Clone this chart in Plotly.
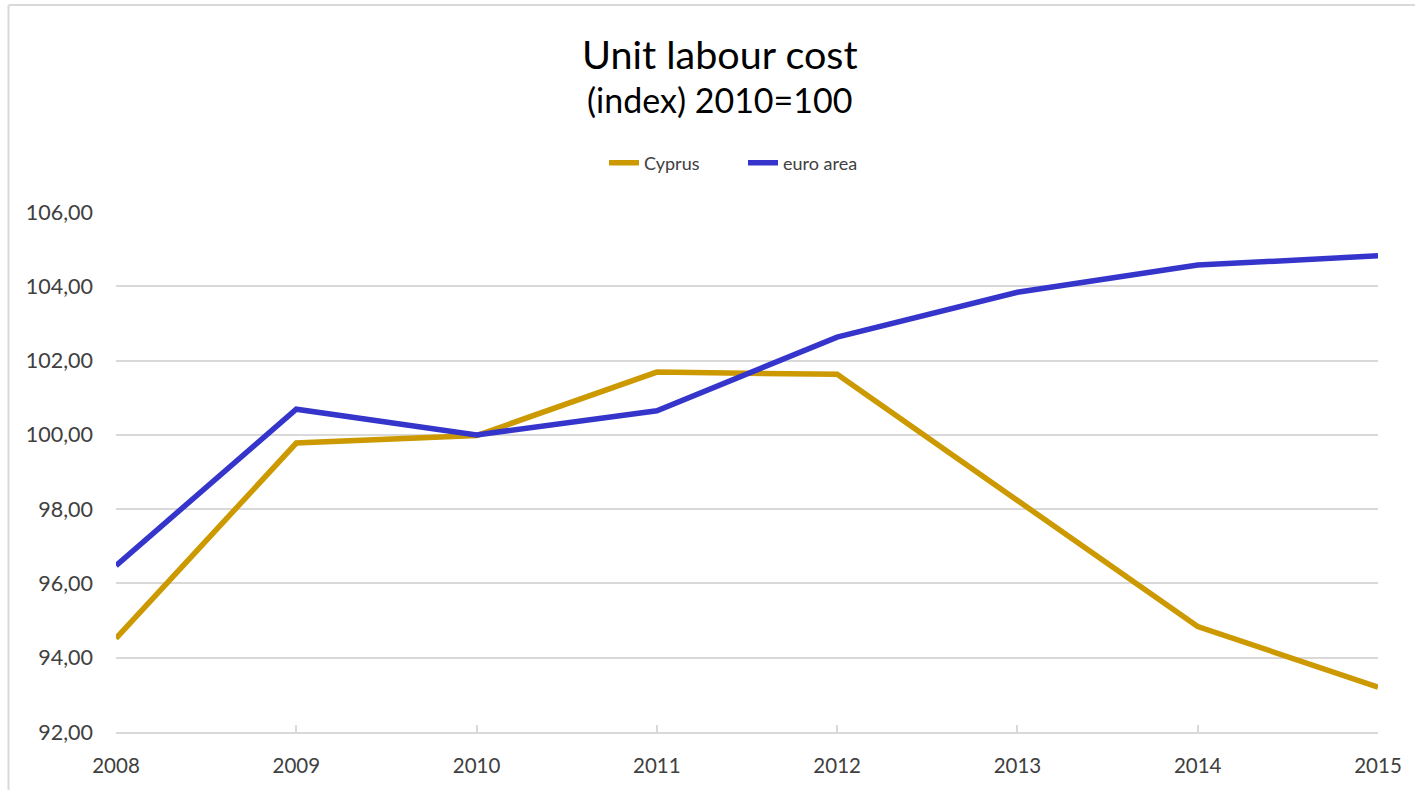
import plotly.graph_objects as go

# Unit labour cost index, 2010 = 100
years = [2008, 2009, 2010, 2011, 2012, 2013, 2014, 2015]
cyprus = [94.52, 99.78, 99.98, 101.69, 101.63, 98.25, 94.84, 93.21]
euro_area = [96.48, 100.69, 100.00, 100.65, 102.63, 103.84, 104.57, 104.82]
y_ticks = [92, 94, 96, 98, 100, 102, 104, 106]
y_tick_labels = [f"{v:.2f}".replace(".", ",") for v in y_ticks]

FONT = "Lato"
GRID = "#d9d9d9"
TEXT = "#404040"

# figure / plot-area geometry in pixels
W, H = 1415, 790
L, R, T, B = 116, 37, 212, 58
pw, ph = W - L - R, H - T - B


def px_x(x):
    return (x - L) / pw


def px_y(y):
    return (H - B - y) / ph


fig = go.Figure()
fig.add_trace(go.Scatter(x=years, y=cyprus, mode="lines", name="Cyprus",
                         line=dict(color="#CC9900", width=5.5)))
fig.add_trace(go.Scatter(x=years, y=euro_area, mode="lines", name="euro area",
                         line=dict(color="#3535CC", width=5.5)))

fig.update_layout(
    width=W, height=H,
    margin=dict(l=L, r=R, t=T, b=B),
    paper_bgcolor="white", plot_bgcolor="white",
    font=dict(family=FONT, color=TEXT),
    showlegend=True,
    legend=dict(orientation="h", xanchor="left", yanchor="middle",
                x=px_x(604), y=px_y(163), font=dict(size=18, color=TEXT),
                entrywidth=94, entrywidthmode="pixels",
                bgcolor="rgba(0,0,0,0)"),
    xaxis=dict(range=[2008, 2015], tickmode="array", tickvals=years,
               ticktext=[str(y) for y in years], showgrid=False,
               showline=True, linecolor=GRID, linewidth=2,
               ticks="inside", ticklen=7, tickcolor=GRID, tickwidth=2,
               tickfont=dict(size=20.5, color=TEXT), ticklabelstandoff=14,
               zeroline=False),
    yaxis=dict(range=[92, 106], tickmode="array", tickvals=y_ticks,
               ticktext=y_tick_labels, showgrid=True, gridcolor=GRID,
               gridwidth=2, showline=False, ticks="",
               tickfont=dict(size=21.5, color=TEXT), ticklabelstandoff=22,
               zeroline=False),
    annotations=[
        dict(text="Unit labour cost", x=px_x(720), y=px_y(53), xref="paper",
             yref="paper", xanchor="center", yanchor="middle", showarrow=False,
             font=dict(size=39.5, color="#000000", family=FONT)),
        dict(text="(index) 2010=100", x=px_x(719), y=px_y(99), xref="paper",
             yref="paper", xanchor="center", yanchor="middle", showarrow=False,
             font=dict(size=34, color="#000000", family=FONT)),
    ],
    shapes=[
        # chart frame (left and top edges)
        dict(type="line", xref="paper", yref="paper", x0=px_x(8.5), x1=px_x(8.5),
             y0=px_y(5), y1=px_y(800), line=dict(color=GRID, width=2)),
        dict(type="line", xref="paper", yref="paper", x0=px_x(8.5), x1=px_x(1420),
             y0=px_y(5), y1=px_y(5), line=dict(color=GRID, width=2)),
    ],
)

fig.write_html("out.html")
